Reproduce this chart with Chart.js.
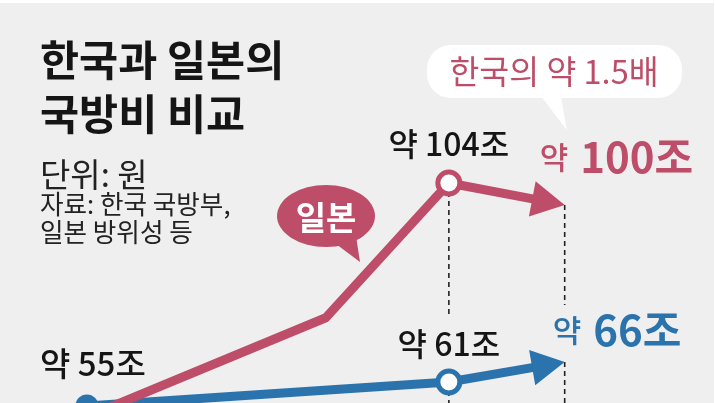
<!DOCTYPE html>
<html>
<head>
<meta charset="utf-8">
<script src="https://cdn.jsdelivr.net/npm/chart.js@4/dist/chart.umd.min.js"></script>
<style>
  html, body { margin: 0; padding: 0; background: #fff; }
  #wrap { width: 716px; height: 403px; }
</style>
</head>
<body>
<div id="wrap"><canvas id="chart" width="716" height="403"></canvas></div>
<script>
// data (units: 조 원)
const japanX = [0, 3.3, 5, 6.6];
const japanVal = [61.5, 79.5, 104, 100];
const koreaX = [0, 5, 6.6];
const koreaVal = [55, 61, 66];

const titleLines = ['한국과 일본의', '국방비 비교'];
const unitText = '단위: 원';
const sourceLines = ['자료: 한국 국방부,', '일본 방위성 등'];
const ratioText = '한국의 약 1.5배';

const RED = '#bd4d69';
const BLUE = '#2b73ad';
const BG = '#efefef';
const FONT = '"Noto Sans CJK KR", "Noto Sans", sans-serif';

function pts(xs, ys) {
  return xs.map((x, i) => ({ x: x, y: ys[i] }));
}

// background
const bgPlugin = {
  id: 'bg',
  beforeDraw(chart) {
    const ctx = chart.ctx;
    ctx.save();
    ctx.fillStyle = '#fff';
    ctx.fillRect(0, 0, chart.width, chart.height);
    ctx.fillStyle = BG;
    ctx.fillRect(0, 3, chart.width - 2, chart.height - 3);
    ctx.restore();
  }
};

// dashed guides + arrow shafts/heads, drawn under the lines
const arrowPlugin = {
  id: 'arrows',
  beforeDatasetsDraw(chart) {
    const ctx = chart.ctx;
    const red = chart.getDatasetMeta(0).data;
    const blue = chart.getDatasetMeta(1).data;

    // dashed verticals
    ctx.save();
    ctx.strokeStyle = '#222';
    ctx.lineWidth = 1.6;
    ctx.setLineDash([5, 4]);
    const pairs = [[red[2], blue[1], 64], [red[3], blue[2], 57]];
    pairs.forEach(([r, b, gap]) => {
      ctx.beginPath();
      ctx.moveTo(b.x, r.y);
      ctx.lineTo(b.x, b.y - gap);
      ctx.moveTo(b.x, b.y);
      ctx.lineTo(b.x, chart.height);
      ctx.stroke();
    });
    ctx.restore();

    [[red, RED], [blue, BLUE]].forEach(([d, color]) => {
      const tip = d[d.length - 1];
      const prev = d[d.length - 2];
      const dx = tip.x - prev.x, dy = tip.y - prev.y;
      const len = Math.sqrt(dx * dx + dy * dy);
      const ux = dx / len, uy = dy / len;
      const headLen = 33, halfW = 18;
      const bx = tip.x - ux * headLen, by = tip.y - uy * headLen;
      ctx.save();
      ctx.strokeStyle = color;
      ctx.fillStyle = color;
      ctx.lineWidth = 9;
      ctx.beginPath();
      ctx.moveTo(prev.x, prev.y);
      ctx.lineTo(bx + ux * 3, by + uy * 3);
      ctx.stroke();
      ctx.beginPath();
      ctx.moveTo(tip.x, tip.y);
      ctx.lineTo(bx - uy * halfW, by + ux * halfW);
      ctx.lineTo(bx + uy * halfW, by - ux * halfW);
      ctx.closePath();
      ctx.fill();
      ctx.restore();
    });
  }
};

// texts
const textPlugin = {
  id: 'texts',
  afterDatasetsDraw(chart) {
    const ctx = chart.ctx;
    const red = chart.getDatasetMeta(0).data;
    const blue = chart.getDatasetMeta(1).data;
    ctx.save();
    ctx.textBaseline = 'middle';
    ctx.textAlign = 'left';

    // title
    ctx.fillStyle = '#151515';
    ctx.font = '700 42.5px ' + FONT;
    ctx.fillText(titleLines[0], 40, 60);
    ctx.fillText(titleLines[1], 40, 114);
    ctx.fillStyle = '#222';
    ctx.font = '400 33px ' + FONT;
    ctx.fillText(unitText, 40, 174);
    ctx.font = '400 25.6px ' + FONT;
    ctx.fillText(sourceLines[0], 40, 204);
    ctx.fillText(sourceLines[1], 40, 232);

    // ratio bubble
    ctx.fillStyle = '#fff';
    ctx.beginPath();
    ctx.roundRect(427, 45, 255, 53, 24);
    ctx.fill();
    ctx.beginPath();
    ctx.moveTo(541, 96);
    ctx.lineTo(red[3].x + 2, 130);
    ctx.lineTo(561, 96);
    ctx.closePath();
    ctx.fill();
    ctx.fillStyle = RED;
    ctx.font = '400 32.5px ' + FONT;
    ctx.textAlign = 'center';
    ctx.fillText(ratioText, 554, 72);

    // 일본 bubble
    ctx.fillStyle = RED;
    ctx.beginPath();
    ctx.ellipse(326, 216, 49, 31, 0, 0, Math.PI * 2);
    ctx.fill();
    ctx.beginPath();
    ctx.moveTo(336, 244);
    ctx.lineTo(360, 262);
    ctx.lineTo(356, 236);
    ctx.closePath();
    ctx.fill();
    ctx.fillStyle = '#fff';
    ctx.font = '700 33px ' + FONT;
    ctx.fillText('일본', 326, 217);

    // value labels
    ctx.fillStyle = '#151515';
    ctx.font = '500 32px ' + FONT;
    ctx.fillText('약 ' + Math.round(japanVal[2]) + '조', red[2].x, red[2].y - 39);
    ctx.fillText('약 ' + koreaVal[1] + '조', blue[1].x, blue[1].y - 38);
    ctx.textAlign = 'left';
    ctx.font = '500 33px ' + FONT;
    ctx.fillText('약 ' + koreaVal[0] + '조', 40, blue[0].y - 43);

    function twoPart(color, x, y, big) {
      ctx.fillStyle = color;
      ctx.font = '500 31px ' + FONT;
      ctx.fillText('약', x, y);
      const w = ctx.measureText('약').width;
      ctx.font = '700 42px ' + FONT;
      ctx.fillText(big, x + w + 12, y);
    }
    twoPart(RED, red[3].x - 25, red[3].y - 48, japanVal[3] + '조');
    twoPart(BLUE, blue[2].x - 12, blue[2].y - 32, koreaVal[2] + '조');

    ctx.restore();
  }
};

const lastJ = japanX.length - 1;
const lastK = koreaX.length - 1;

new Chart(document.getElementById('chart'), {
  type: 'line',
  data: {
    datasets: [
      {
        label: '일본',
        data: pts(japanX, japanVal),
        yAxisID: 'yJ',
        borderColor: RED,
        borderWidth: 9,
        borderCapStyle: 'butt',
        borderJoinStyle: 'round',
        tension: 0,
        clip: false,
        order: 0,
        segment: { borderColor: c => c.p1DataIndex === lastJ ? 'transparent' : RED },
        pointRadius: [0, 0, 11, 0],
        pointBorderWidth: 5,
        pointBorderColor: RED,
        pointBackgroundColor: '#fff'
      },
      {
        label: '한국',
        data: pts(koreaX, koreaVal),
        yAxisID: 'yK',
        borderColor: BLUE,
        borderWidth: 9,
        borderCapStyle: 'butt',
        borderJoinStyle: 'round',
        tension: 0,
        clip: false,
        order: 1,
        segment: { borderColor: c => c.p1DataIndex === lastK ? 'transparent' : BLUE },
        pointRadius: [9, 11, 0],
        pointBorderWidth: 5,
        pointBorderColor: BLUE,
        pointBackgroundColor: [BLUE, '#fff', '#fff']
      }
    ]
  },
  options: {
    responsive: false,
    animation: false,
    devicePixelRatio: 1,
    layout: { padding: 0, autoPadding: false },
    plugins: { legend: { display: false }, tooltip: { enabled: false }, title: { display: false } },
    scales: {
      x: { type: 'linear', bounds: 'data', min: -1.2, max: 8.69, display: false },
      yK: { type: 'linear', bounds: 'data', min: 55.75, max: 156.5, display: false },
      yJ: { type: 'linear', bounds: 'data', min: 64, max: 137.27, display: false }
    }
  },
  plugins: [bgPlugin, arrowPlugin, textPlugin]
});
</script>
</body>
</html>
